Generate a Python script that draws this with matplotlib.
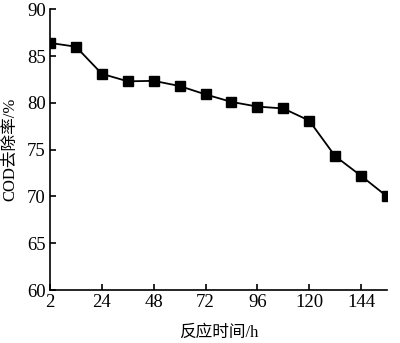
import matplotlib
matplotlib.use("Agg")
import matplotlib.pyplot as plt

# sampling every 12 h, first label shown as "2"
time_pos = [0, 12, 24, 36, 48, 60, 72, 84, 96, 108, 120, 132, 144, 156]
cod_removal = [86.4, 86.0, 83.1, 82.3, 82.35, 81.8, 80.9, 80.1, 79.6, 79.4, 78.1, 74.3, 72.2, 70.0]
tick_pos = [0, 24, 48, 72, 96, 120, 144]
tick_labels = ["2", "24", "48", "72", "96", "120", "144"]

fam = ["Liberation Serif", "Noto Sans CJK SC"]

fig = plt.figure(figsize=(4.0, 3.43), dpi=100)
ax = fig.add_axes([0.125, 0.1545, 0.8425, 0.8185])

ax.plot(time_pos, cod_removal, color="black", linewidth=1.3,
        marker="s", markersize=6.5, markerfacecolor="black", markeredgecolor="black")

ax.set_xlim(0, 156)
ax.set_ylim(60, 90)
ax.set_xticks(tick_pos)
ax.set_xticklabels(tick_labels)
ax.set_yticks(range(60, 91, 5))

for s in ["top", "right"]:
    ax.spines[s].set_visible(False)
for s in ["left", "bottom"]:
    ax.spines[s].set_linewidth(1.2)

ax.tick_params(direction="in", length=4, width=1.2, labelsize=13.5, pad=3)
for lab in ax.get_xticklabels() + ax.get_yticklabels():
    lab.set_family(fam)

ax.set_xlabel("反应时间/h", family=fam, fontsize=12, labelpad=10)
ax.set_ylabel("COD去除率/%", family=fam, fontsize=12, labelpad=6)

fig.savefig("out.png", dpi=100)
